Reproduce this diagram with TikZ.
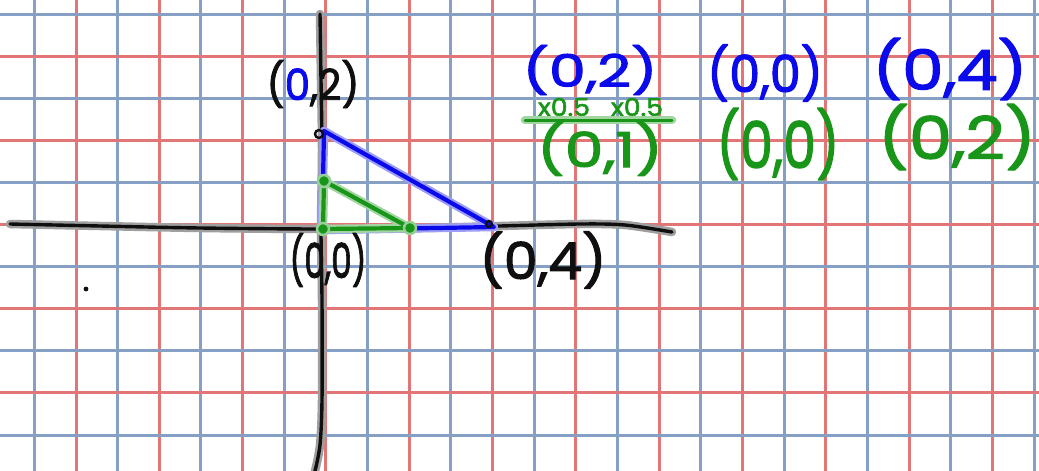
\documentclass[tikz,border=0pt]{standalone}
\usepackage{fontspec}
\setmainfont{Poppins}[FakeBold=2]
\definecolor{gridblue}{RGB}{133,160,196}
\definecolor{gridred}{RGB}{226,118,118}
\definecolor{penblue}{RGB}{10,10,235}
\definecolor{pengreen}{RGB}{25,150,25}
\definecolor{penblack}{RGB}{15,15,15}
\tikzset{
  gline/.style={line width=3pt},
  pen/.style={draw=#1, line width=4.2pt, line cap=round, line join=round,
    preaction={draw=#1!40, line width=8.5pt, line cap=round, line join=round}},
  hand/.style={inner sep=0pt, outer sep=0pt, text=#1},
  vdot/.style={fill=#1, draw=#1!45, line width=2.5pt},
}
\begin{document}
\begin{tikzpicture}[x=1pt,y=-1pt]
\useasboundingbox (0,0) rectangle (1039,471);
\clip (0,0) rectangle (1039,471);
\fill[white] (0,0) rectangle (1039,471);
% grid
\foreach \j in {0,...,12} \draw[gline,gridblue] ({34.3+83.33*\j},0) -- ++(0,471);
\foreach \j in {0,...,11} \draw[gline,gridred] ({76+83.33*\j},0) -- ++(0,471);
\foreach \j in {0,...,5} \draw[gline,gridblue] (0,{14+84.2*\j}) -- ++(1039,0);
\foreach \j in {0,...,4} \draw[gline,gridred] (0,{56.1+84.2*\j}) -- ++(1039,0);
% axes
\draw[pen=penblack, line width=3.4pt] plot[smooth] coordinates {(10,224) (100,226) (200,228) (320,229) (420,228) (500,226) (580,224) (625,225) (672,232)};
\draw[pen=penblack, line width=3.4pt] plot[smooth] coordinates {(320,14) (321,80) (322,150) (321,230) (322,300) (322,400) (320,445) (315,471)};
% triangle vertices
\coordinate (A) at (324,131);
\coordinate (O) at (322,230);
\coordinate (B) at (494,227);
\coordinate (Ag) at (324,181);
\coordinate (Og) at (323,229);
\coordinate (Bg) at (410,228);
% blue triangle
\draw[pen=penblue] (A) -- (O) -- (B) -- cycle;
\draw[penblack, line width=2.4pt] (319,134) circle (4);
\draw[penblack, line width=2.2pt] (489,224) circle (3);
% green triangle
\draw[pen=pengreen] (Ag) -- (Og) -- (Bg) -- cycle;
\foreach \p in {Ag,Og,Bg} \fill[vdot=pengreen] (\p) circle (6);
% stray dot
\fill[penblack] (86,289) circle (2.4);
% black labels
\node[hand=penblack] (lA) at (313,84) {\resizebox*{93pt}{48pt}{(\textcolor{penblue}{0},2)}};
\node[hand=penblack] (lO) at (328,260) {\resizebox*{77pt}{54pt}{(0,0)}};
\node[hand=penblack] (lB) at (543,260) {\resizebox*{127pt}{57pt}{(0,4)}};
% blue labels
\node[hand=penblue] (b1) at (590,70) {\resizebox*{135pt}{50pt}{(0,2)}};
\node[hand=penblue] (b2) at (765,73) {\resizebox*{116pt}{57pt}{(0,0)}};
\node[hand=penblue] (b3) at (950,69) {\resizebox*{155pt}{62pt}{(0,4)}};
% scale factors
\node[hand=pengreen] (s1) at (564,107) {\resizebox*{52pt}{18pt}{x0.5}};
\node[hand=pengreen] (s2) at (637,107) {\resizebox*{52pt}{18pt}{x0.5}};
\coordinate (rl) at (525,120);
\coordinate (rr) at (672,120);
\draw[pen=pengreen, line width=3pt] (rl) -- (rr);
% green labels
\node[hand=pengreen] (g1) at (600,149) {\resizebox*{126pt}{54pt}{(0,1)}};
\node[hand=pengreen] (g2) at (778,144) {\resizebox*{123pt}{72pt}{(0,0)}};
\node[hand=pengreen] (g3) at (957,137) {\resizebox*{158pt}{66pt}{(0,2)}};
\end{tikzpicture}
\end{document}
